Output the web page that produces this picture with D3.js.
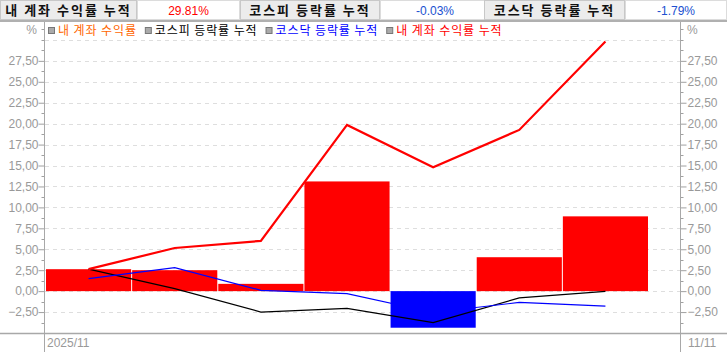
<!DOCTYPE html>
<html><head><meta charset="utf-8">
<script src="https://cdn.jsdelivr.net/npm/d3@7"></script>
<style>
html,body{margin:0;padding:0;background:#fff;}
svg{display:block;}
</style></head>
<body>
<svg id="c" width="727" height="352"></svg>
<script>
const categories = ["11/03","11/04","11/05","11/06","11/07","11/10","11/11"];
const dailyReturn = [2.62, 2.5, 0.87, 13.1, -4.37, 4.05, 8.93];
const myCumulative = [2.62, 5.15, 6.0, 19.85, 14.8, 19.25, 29.81];
const kospiCumulative = [2.62, 0.3, -2.5, -2.06, -3.77, -0.8, -0.03];
const kosdaqCumulative = [1.5, 2.8, 0.1, -0.3, -2.55, -1.35, -1.79];
const yTicks = [-2.5, 0, 2.5, 5, 7.5, 10, 12.5, 15, 17.5, 20, 22.5, 25, 27.5];
const headerItems = [
  {label:"내 계좌 수익률 누적", value:"29.81%", color:"#ff0000"},
  {label:"코스피 등락률 누적", value:"-0.03%", color:"#2050d0"},
  {label:"코스닥 등락률 누적", value:"-1.79%", color:"#2050d0"}
];
const legendItems = [
  {text:"내 계좌 수익률", color:"#ff6600"},
  {text:"코스피 등락률 누적", color:"#000000"},
  {text:"코스닥 등락률 누적", color:"#0000ff"},
  {text:"내 계좌 수익률 누적", color:"#ff0000"}
];
const xStartLabel = "2025/11", xEndLabel = "11/11";

(function(){
const svg = d3.select("#c");
const kr = "'Noto Sans CJK KR','Noto Sans',sans-serif";
const num = "'Liberation Sans','DejaVu Sans',sans-serif";

// header
const hdr = [[0,137,240],[240,380,490],[484,625,727]];
headerItems.forEach((h,i)=>{
  const [a,b,c] = hdr[i];
  svg.append("rect").attr("x",a+0.5).attr("y",0.5).attr("width",b-a-1).attr("height",19)
    .attr("fill","#ececec").attr("stroke","#c8c8c8");
  svg.append("rect").attr("x",b+0.5).attr("y",0.5).attr("width",c-b-1).attr("height",19)
    .attr("fill","#fff").attr("stroke","#dcdcdc");
  svg.append("text").attr("x",(a+b)/2).attr("y",15).attr("text-anchor","middle")
    .attr("font-family",kr).attr("font-weight","bold").attr("font-size",13).attr("fill","#111")
    .attr("letter-spacing","2").text(h.label);
  svg.append("text").attr("x",(b+c)/2).attr("y",15).attr("text-anchor","middle")
    .attr("font-family",num).attr("font-size",12).attr("fill",h.color).text(h.value);
});
svg.append("line").attr("x1",0).attr("x2",727).attr("y1",21).attr("y2",21).attr("stroke","#b0b0b0").attr("stroke-width",2);

const pL = 44, pR = 680, pT = 22, pB = 333;
const y = d3.scaleLinear().domain([-5, 32.14]).range([pB, pT]);
const x = d3.scaleBand().domain(categories).range([46, 648]).paddingInner(1/86).paddingOuter(0);

// grid
const gridVals = yTicks.concat([30]);
svg.append("g").selectAll("line").data(gridVals).join("line")
  .attr("x1",pL+1).attr("x2",pR).attr("y1",d=>Math.round(y(d))+0.5).attr("y2",d=>Math.round(y(d))+0.5)
  .attr("stroke","#dedede").attr("stroke-dasharray","4,4");

// bars
svg.append("g").selectAll("rect").data(dailyReturn).join("rect")
  .attr("x",(d,i)=>x(categories[i])).attr("width",x.bandwidth())
  .attr("y",d=>y(Math.max(0,d))).attr("height",d=>Math.abs(y(d)-y(0)))
  .attr("fill",d=>d>=0?"#ff0000":"#0000ff");

const cx = i => x(categories[i]) + x.bandwidth()/2;
const line = d3.line().x((d,i)=>cx(i)).y(d=>y(d));
svg.append("path").datum(kospiCumulative).attr("d",line).attr("fill","none").attr("stroke","#000").attr("stroke-width",1.2);
svg.append("path").datum(kosdaqCumulative).attr("d",line).attr("fill","none").attr("stroke","#0000ff").attr("stroke-width",1.2);
svg.append("path").datum(myCumulative).attr("d",line).attr("fill","none").attr("stroke","#ff0000").attr("stroke-width",2.2);

// axes
const minor = d3.range(-3.75, 31.26, 2.5);
const fmt = d=>d3.format(".2f")(d).replace(".",",");
const gL = svg.append("g").attr("transform",`translate(${pL+0.5},0)`).call(d3.axisLeft(y).tickValues(yTicks).tickSize(6).tickFormat(fmt));
const gR = svg.append("g").attr("transform",`translate(${pR+0.5},0)`).call(d3.axisRight(y).tickValues(yTicks).tickSize(6).tickFormat(fmt));
[gL,gR].forEach(g=>{
  g.select(".domain").remove();
  g.selectAll("line").attr("stroke","#a0a0a0");
  g.selectAll("text").attr("font-family",num).attr("font-size",12).attr("fill","#999");
});
gL.selectAll("text").attr("x",-6);
gR.selectAll("text").attr("x",7);
[[pL,-1],[pR,1]].forEach(([ax,s])=>{
  svg.append("g").selectAll("line").data(minor.concat([30])).join("line")
    .attr("x1",ax+0.5).attr("x2",ax+0.5+s*3).attr("y1",d=>Math.round(y(d))+0.5).attr("y2",d=>Math.round(y(d))+0.5)
    .attr("stroke","#a0a0a0");
});
svg.append("text").attr("x",37).attr("y",34).attr("text-anchor","end").attr("font-family",num).attr("font-size",12).attr("fill","#999").text("%");
svg.append("text").attr("x",687).attr("y",34).attr("font-family",num).attr("font-size",12).attr("fill","#999").text("%");

svg.append("line").attr("x1",pL+0.5).attr("x2",pL+0.5).attr("y1",22).attr("y2",352).attr("stroke","#a8a8a8");
svg.append("line").attr("x1",pR+0.5).attr("x2",pR+0.5).attr("y1",22).attr("y2",352).attr("stroke","#a8a8a8");
svg.append("line").attr("x1",0).attr("x2",727).attr("y1",pB+0.5).attr("y2",pB+0.5).attr("stroke","#a8a8a8").attr("stroke-width",1.5);

svg.append("text").attr("x",47).attr("y",347).attr("font-family",num).attr("font-size",12).attr("fill","#999").text(xStartLabel);
svg.append("text").attr("x",688).attr("y",347).attr("font-family",num).attr("font-size",12).attr("fill","#999").text(xEndLabel);

// legend
let lx = 48;
const lg = svg.append("g");
legendItems.forEach(it=>{
  lg.append("rect").attr("x",lx+0.5).attr("y",27.5).attr("width",6).attr("height",6).attr("fill","#aaa").attr("stroke","#777");
  const t = lg.append("text").attr("x",lx+10).attr("y",35).attr("font-family",kr).attr("font-size",12)
    .attr("fill",it.color).attr("letter-spacing","0.9").text(it.text);
  lx += 10 + t.node().getComputedTextLength() + 8;
});
})();
</script>
</body></html>
